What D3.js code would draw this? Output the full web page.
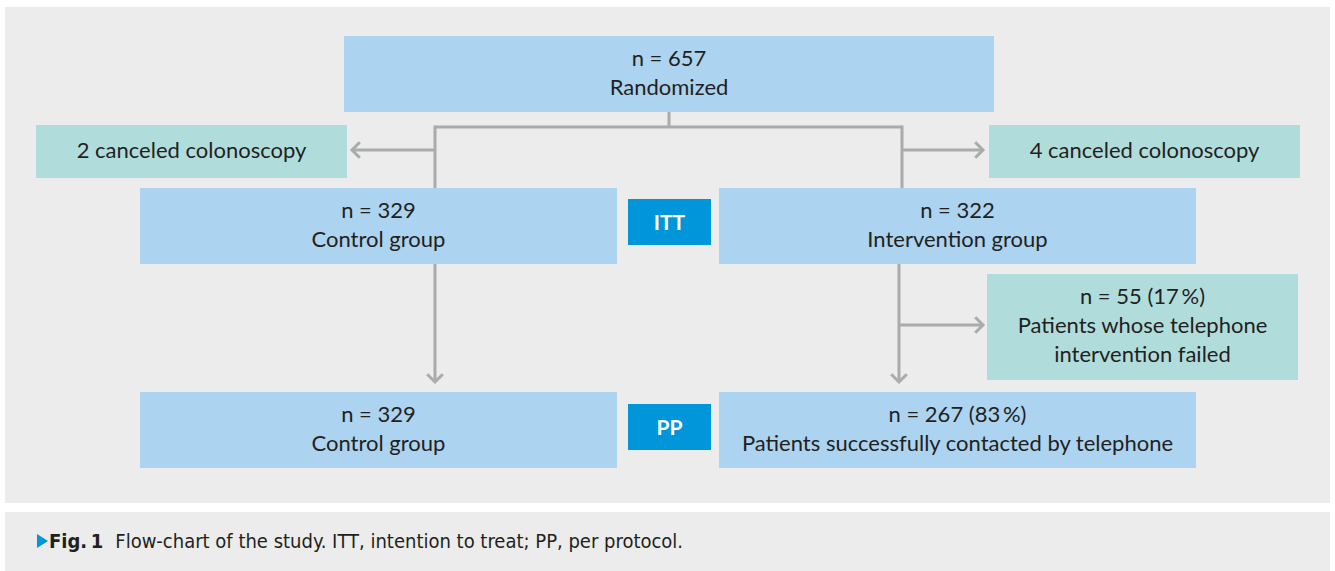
<!DOCTYPE html>
<html>
<head>
<meta charset="utf-8">
<script src="https://cdn.jsdelivr.net/npm/d3@7"></script>
<style>
  body { margin: 0; background: #fff; }
  svg { display: block; }
  .box-text { font-family: Lato, "Noto Sans", sans-serif; font-size: 22px; fill: #231f20; }
  .tag-text { font-family: Lato, "Noto Sans", sans-serif; font-size: 21px; font-weight: bold; fill: #fff; }
  .caption { font-family: "Liberation Sans Narrow", "DejaVu Sans Condensed", sans-serif; font-size: 20px; fill: #231f20; }
</style>
</head>
<body>
<div class="chart"></div>
<script>
// Data: flow-chart boxes
//= ================================
var nodeIds = ["rand", "cancelL", "cancelR", "ctrlItt", "intItt", "failed", "ctrlPp", "intPp"];
var nodeLines = [
  ["n = 657", "Randomized"],
  ["2 canceled colonoscopy"],
  ["4 canceled colonoscopy"],
  ["n = 329", "Control group"],
  ["n = 322", "Intervention group"],
  ["n = 55 (17\u2009%)", "Patients whose telephone", "intervention failed"],
  ["n = 329", "Control group"],
  ["n = 267 (83\u2009%)", "Patients successfully contacted by telephone"]
];
var nodeKinds = ["main", "side", "side", "main", "main", "side", "main", "main"];
var tagLabels = ["ITT", "PP"];
var captionBold = "Fig.\u20091";
var captionText = "Flow-chart of the study. ITT, intention to treat; PP, per protocol.";

// Layout
//= ================================
var svgWidth = 1335;
var svgHeight = 571;

var layout = {
  rand:    { x0: 344, x1: 994,  y0: 36,  y1: 112 },
  cancelL: { x0: 36,  x1: 347,  y0: 125, y1: 178 },
  cancelR: { x0: 989, x1: 1300, y0: 125, y1: 178 },
  ctrlItt: { x0: 140, x1: 617,  y0: 188, y1: 264 },
  intItt:  { x0: 719, x1: 1196, y0: 188, y1: 264 },
  failed:  { x0: 987, x1: 1298, y0: 274, y1: 380 },
  ctrlPp:  { x0: 140, x1: 617,  y0: 392, y1: 468 },
  intPp:   { x0: 719, x1: 1196, y0: 392, y1: 468 }
};
var tagLayout = [
  { x0: 628, x1: 711, y0: 199, y1: 245 },
  { x0: 628, x1: 711, y0: 404, y1: 450 }
];
var lineHeight = 29;

var colors = { main: "#acd3ef", side: "#b0dddc", tag: "#0096d9", line: "#a9abad", panel: "#ebeceb" };

var nodes = nodeIds.map(function(id, i) {
  return { id: id, lines: nodeLines[i], kind: nodeKinds[i], box: layout[id] };
});

var svg = d3.select(".chart")
  .append("svg")
  .attr("width", svgWidth)
  .attr("height", svgHeight);

// background panels
svg.append("rect").attr("x", 5).attr("y", 7).attr("width", 1325).attr("height", 496).attr("fill", colors.panel);
svg.append("rect").attr("x", 5).attr("y", 512).attr("width", 1325).attr("height", 59).attr("fill", colors.panel);

// connectors
var conn = svg.append("g")
  .attr("fill", "none")
  .attr("stroke", colors.line)
  .attr("stroke-width", 3);

var xL = 435, xR = 902, xR2 = 899;
var yBar = 127, ySide1 = 150, ySide2 = 325;

var segments = [
  [[669, layout.rand.y1], [669, yBar]],
  [[xL, yBar], [xR, yBar]],
  [[xL, yBar - 1.5], [xL, layout.ctrlItt.y0]],
  [[xR, yBar - 1.5], [xR, layout.intItt.y0]],
  [[xL, ySide1], [layout.cancelL.x1 + 5, ySide1]],
  [[xR, ySide1], [layout.cancelR.x0 - 6, ySide1]],
  [[xL, layout.ctrlItt.y1], [xL, layout.ctrlPp.y0 - 10]],
  [[xR2, layout.intItt.y1], [xR2, layout.intPp.y0 - 10]],
  [[xR2, ySide2], [layout.failed.x0 - 4, ySide2]]
];
var line = d3.line();
conn.selectAll("path.seg")
  .data(segments)
  .enter()
  .append("path")
  .attr("class", "seg")
  .attr("d", function(d) { return line(d); });

// arrowheads (open chevrons) at the end of arrow segments
var heads = [segments[4], segments[5], segments[6], segments[7], segments[8]];
conn.selectAll("path.head")
  .data(heads)
  .enter()
  .append("path")
  .attr("class", "head")
  .attr("stroke-linejoin", "miter")
  .attr("d", function(d) {
    var a = d[0], b = d[1];
    var ang = Math.atan2(b[1] - a[1], b[0] - a[0]);
    var len = 11, spread = Math.PI / 4;
    var p1 = [b[0] - len * Math.cos(ang - spread), b[1] - len * Math.sin(ang - spread)];
    var p2 = [b[0] - len * Math.cos(ang + spread), b[1] - len * Math.sin(ang + spread)];
    return line([p1, b, p2]);
  });

// boxes
var boxG = svg.selectAll("g.node")
  .data(nodes)
  .enter()
  .append("g")
  .attr("class", "node");

boxG.append("rect")
  .attr("x", function(d) { return d.box.x0; })
  .attr("y", function(d) { return d.box.y0; })
  .attr("width", function(d) { return d.box.x1 - d.box.x0; })
  .attr("height", function(d) { return d.box.y1 - d.box.y0; })
  .attr("fill", function(d) { return colors[d.kind]; });

boxG.each(function(d) {
  var cx = (d.box.x0 + d.box.x1) / 2;
  var cy = (d.box.y0 + d.box.y1) / 2 - 1.5;
  var n = d.lines.length;
  d3.select(this).selectAll("text")
    .data(d.lines)
    .enter()
    .append("text")
    .attr("class", "box-text")
    .attr("x", cx)
    .attr("y", function(t, i) { return cy + (i - (n - 1) / 2) * lineHeight; })
    .attr("dy", "0.36em")
    .attr("text-anchor", "middle")
    .text(function(t) { return t; });
});

// ITT / PP tags
var tagG = svg.selectAll("g.tag")
  .data(tagLabels)
  .enter()
  .append("g")
  .attr("class", "tag");

tagG.append("rect")
  .attr("x", function(d, i) { return tagLayout[i].x0; })
  .attr("y", function(d, i) { return tagLayout[i].y0; })
  .attr("width", function(d, i) { return tagLayout[i].x1 - tagLayout[i].x0; })
  .attr("height", function(d, i) { return tagLayout[i].y1 - tagLayout[i].y0; })
  .attr("fill", colors.tag);

tagG.append("text")
  .attr("class", "tag-text")
  .attr("x", function(d, i) { return (tagLayout[i].x0 + tagLayout[i].x1) / 2; })
  .attr("y", function(d, i) { return (tagLayout[i].y0 + tagLayout[i].y1) / 2; })
  .attr("dy", "0.36em")
  .attr("text-anchor", "middle")
  .text(function(d) { return d; });

// caption
svg.append("path")
  .attr("d", "M37,534 L48,541 L37,548 Z")
  .attr("fill", colors.tag);

var cap = svg.append("text")
  .attr("class", "caption")
  .attr("x", 49)
  .attr("y", 548);
cap.append("tspan").attr("font-weight", "bold").text(captionBold);
cap.append("tspan").attr("dx", 12).text(captionText);
</script>
</body>
</html>
